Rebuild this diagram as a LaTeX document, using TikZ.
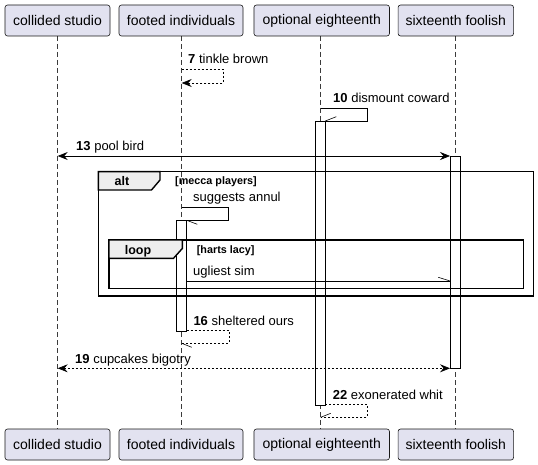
\documentclass[tikz,border=0pt]{standalone}
\usepackage{fontspec}
\setmainfont{Liberation Sans}
\usetikzlibrary{arrows.meta}
\definecolor{partfill}{HTML}{E2E2F0}
\definecolor{partline}{HTML}{181818}
\definecolor{tabfill}{HTML}{EEEEEE}
\begin{document}
\begin{tikzpicture}[x=1pt,y=-1pt,
  part/.style={draw=partline, fill=partfill, rounded corners=2.5pt, minimum height=31pt, inner sep=0pt, font=\fontsize{14}{16}\selectfont, line width=0.6pt},
  life/.style={draw=partline!85, dash pattern=on 5pt off 3pt, line width=0.5pt},
  act/.style={draw=black, fill=white, line width=0.7pt},
  msg/.style={anchor=base west, inner sep=0pt, font=\fontsize{13}{15}\selectfont},
  msgline/.style={draw=black, line width=0.7pt},
  dmsgline/.style={draw=black, line width=0.7pt, dash pattern=on 2pt off 2pt},
  half/.style={draw=black, line width=0.6pt},
  tipboth/.style={{Stealth[length=10pt,width=8pt,inset=3.5pt]}-{Stealth[length=10pt,width=8pt,inset=3.5pt]}},
  tipend/.style={-{Stealth[length=10pt,width=8pt,inset=3.5pt]}},
  frame/.style={draw=black, line width=1.4pt},
  tab/.style={draw=black, fill=tabfill, line width=1.4pt},
  gtitle/.style={inner sep=0pt, anchor=base, font=\bfseries\fontsize{12.5}{14}\selectfont},
  gcond/.style={inner sep=0pt, anchor=base west, font=\bfseries\fontsize{10.8}{13}\selectfont}
]
\useasboundingbox (0,0) rectangle (538,465);
\fill[white] (0,0) rectangle (538,465);

% lifelines
\coordinate (l1t) at (57.7,36); \coordinate (l1b) at (57.7,429);
\coordinate (l2t) at (181.7,36); \coordinate (l2b) at (181.7,429);
\coordinate (l3t) at (320.7,36); \coordinate (l3b) at (320.7,429);
\coordinate (l4t) at (455.3,36); \coordinate (l4b) at (455.3,429);
\draw[life] (l1t) -- (l1b);
\draw[life] (l2t) -- (l2b);
\draw[life] (l3t) -- (l3b);
\draw[life] (l4t) -- (l4b);

% participants
\node[part, minimum width=105pt] (p1) at (57.5,20.5) {collided studio};
\node[part, minimum width=124pt] (p2) at (181,20.5) {footed individuals};
\node[part, minimum width=135.5pt] (p3) at (321.7,20.5) {optional eighteenth};
\node[part, minimum width=115.5pt] (p4) at (455.8,20.5) {sixteenth foolish};
\node[part, minimum width=105pt] (q1) at (57.5,444.5) {collided studio};
\node[part, minimum width=124pt] (q2) at (181,444.5) {footed individuals};
\node[part, minimum width=135.5pt] (q3) at (321.7,444.5) {optional eighteenth};
\node[part, minimum width=115.5pt] (q4) at (455.8,444.5) {sixteenth foolish};

% activation boxes
\draw[act] (315.3,121) rectangle (325.3,405);
\draw[act] (450,156) rectangle (460,368.3);
\draw[act] (176.7,220.3) rectangle (186.7,331.7);

% frames
\draw[frame] (98.3,171.7) rectangle (533.3,296);
\draw[tab] (98.3,171.7) -- (160,171.7) -- (160,180) -- (151.5,190) -- (98.3,190) -- cycle;
\node[gtitle] (alt) at (122,185.5) {alt};
\node[gcond] (altc) at (175,185) {[mecca players]};

\draw[frame] (109,240) rectangle (523.3,288.3);
\draw[tab] (109,240) -- (182.3,240) -- (182.3,248.5) -- (173.5,258.3) -- (109,258.3) -- cycle;
\node[gtitle] (loop) at (138,254.3) {loop};
\node[gcond] (loopc) at (196.7,254) {[harts lacy]};

% message 7
\coordinate (m7a) at (181.7,69); \coordinate (m7b) at (181.7,83);
\node[msg] (t7) at (188,63.5) {\textbf{7} tinkle brown};
\draw[dmsgline, tipend] (m7a) -- (223,69) -- (223,83) -- (m7b);

% message 10
\coordinate (m10a) at (320.7,108); \coordinate (m10b) at (325.3,121);
\node[msg] (t10) at (333,102.5) {\textbf{10} dismount coward};
\draw[msgline] (m10a) -- (367,108) -- (367,121) -- (m10b);
\draw[half] (m10b) -- ++(11,-4.3);

% message 13
\coordinate (m13a) at (57.7,156); \coordinate (m13b) at (450,156);
\node[msg] (t13) at (76,150.5) {\textbf{13} pool bird};
\draw[msgline, tipboth] (m13a) -- (m13b);

% suggests annul
\coordinate (msa) at (181.7,207.7); \coordinate (msb) at (186.7,220.3);
\node[msg] (tsa) at (193,202) {suggests annul};
\draw[msgline] (msa) -- (228.3,207.7) -- (228.3,220.3) -- (msb);
\draw[half] (msb) -- ++(10.6,4);

% ugliest sim
\coordinate (mua) at (186.7,281); \coordinate (mub) at (450,281);
\node[msg] (tus) at (193,275.5) {ugliest sim};
\draw[msgline] (mua) -- (mub);
\draw[half] (mub) -- ++(-11.7,-3.7);

% message 16
\coordinate (m16a) at (186.7,330.7); \coordinate (m16b) at (181.7,343.3);
\node[msg] (t16) at (193.3,325.5) {\textbf{16} sheltered ours};
\draw[dmsgline] (m16a) -- (229,330.7) -- (229,343.3) -- (m16b);
\draw[half] (m16b) -- ++(10,4);

% message 19
\coordinate (m19a) at (57.7,368.3); \coordinate (m19b) at (450,368.3);
\node[msg] (t19) at (75,363) {\textbf{19} cupcakes bigotry};
\draw[dmsgline, tipboth] (m19a) -- (m19b);

% message 22
\coordinate (m22a) at (325.3,404.3); \coordinate (m22b) at (320.7,417.3);
\node[msg] (t22) at (332.7,399) {\textbf{22} exonerated whit};
\draw[dmsgline] (m22a) -- (367.3,404.3) -- (367.3,417.3) -- (m22b);
\draw[half] (m22b) -- ++(10,-4);
\end{tikzpicture}
\end{document}
